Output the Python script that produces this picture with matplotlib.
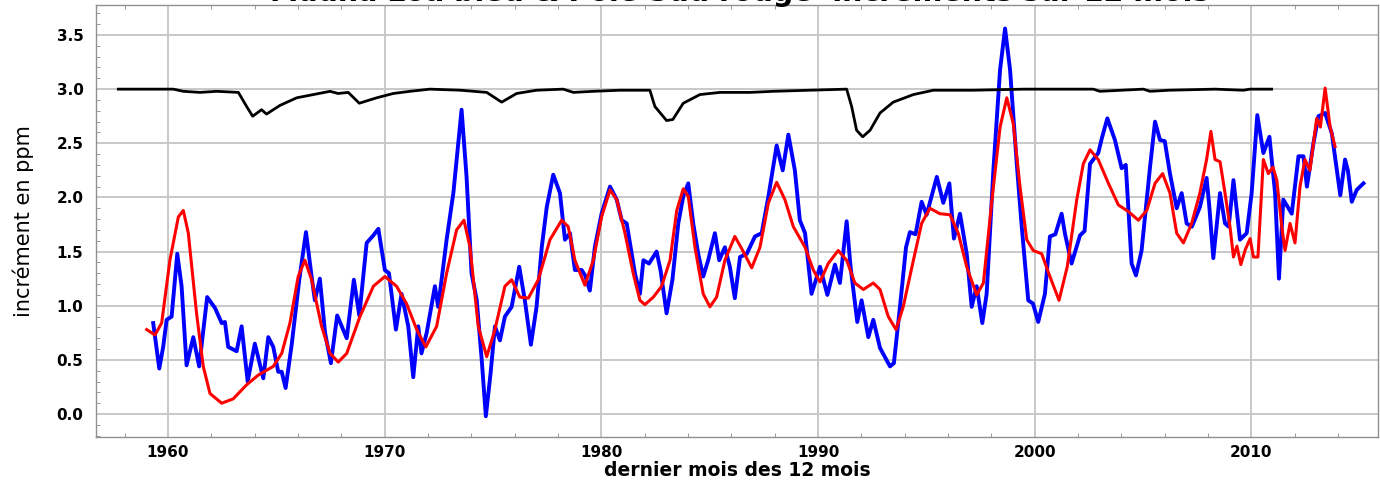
import matplotlib
matplotlib.use("Agg")
import matplotlib.pyplot as plt
from matplotlib.ticker import MultipleLocator

# Mauna Loa (blue) 12-month increment
ml_years = [1959.32, 1959.60, 1959.78, 1959.94, 1960.17, 1960.43, 1960.63, 1960.86, 1961.17, 1961.44,
            1961.81, 1962.17, 1962.48, 1962.63, 1962.78, 1963.17, 1963.40, 1963.68, 1964.01, 1964.40,
            1964.63, 1964.86, 1965.09, 1965.25, 1965.43, 1965.71, 1966.06, 1966.37, 1966.63, 1966.78,
            1967.01, 1967.25, 1967.52, 1967.81, 1968.25, 1968.58, 1968.83, 1969.17, 1969.48, 1969.71,
            1970.01, 1970.20, 1970.52, 1970.78, 1971.09, 1971.32, 1971.55, 1971.70, 1971.94, 1972.32,
            1972.47, 1972.86, 1973.17, 1973.55, 1973.78, 1974.01, 1974.25, 1974.48, 1974.67, 1974.89,
            1975.09, 1975.32, 1975.55, 1975.86, 1976.21, 1976.47, 1976.75, 1977.01, 1977.25, 1977.48,
            1977.78, 1978.09, 1978.32, 1978.55, 1978.78, 1979.09, 1979.25, 1979.47, 1979.70, 1980.01,
            1980.40, 1980.71, 1980.94, 1981.17, 1981.55, 1981.78, 1981.94, 1982.20, 1982.55, 1982.73,
            1983.01, 1983.28, 1983.55, 1983.78, 1984.01, 1984.24, 1984.47, 1984.70, 1984.93, 1985.24,
            1985.44, 1985.70, 1985.93, 1986.16, 1986.40, 1986.71, 1987.09, 1987.40, 1987.71, 1988.09,
            1988.37, 1988.63, 1988.93, 1989.16, 1989.40, 1989.70, 1990.09, 1990.43, 1990.78, 1991.01,
            1991.32, 1991.50, 1991.81, 1992.01, 1992.32, 1992.55, 1992.86, 1993.32, 1993.50, 1993.78,
            1994.06, 1994.24, 1994.50, 1994.78, 1995.01, 1995.48, 1995.78, 1996.06, 1996.27, 1996.55,
            1996.86, 1997.09, 1997.32, 1997.58, 1997.78, 1998.09, 1998.40, 1998.63, 1998.86, 1999.17,
            1999.40, 1999.70, 1999.92, 2000.16, 2000.47, 2000.70, 2000.95, 2001.24, 2001.40, 2001.70,
            2002.09, 2002.30, 2002.55, 2002.93, 2003.10, 2003.35, 2003.70, 2004.01, 2004.20, 2004.47,
            2004.67, 2004.93, 2005.32, 2005.55, 2005.78, 2006.00, 2006.24, 2006.55, 2006.78, 2007.01,
            2007.25, 2007.62, 2007.93, 2008.05, 2008.24, 2008.55, 2008.78, 2008.95, 2009.17, 2009.47,
            2009.78, 2010.01, 2010.27, 2010.55, 2010.83, 2011.09, 2011.27, 2011.47, 2011.86, 2012.17,
            2012.40, 2012.56, 2012.86, 2013.09, 2013.40, 2013.71, 2013.94, 2014.10, 2014.32, 2014.45,
            2014.63, 2014.86, 2015.17]
ml_values = [0.84, 0.42, 0.62, 0.87, 0.90, 1.48, 1.18, 0.45, 0.71, 0.44,
             1.08, 0.98, 0.84, 0.85, 0.62, 0.58, 0.81, 0.30, 0.65, 0.33,
             0.71, 0.62, 0.39, 0.39, 0.24, 0.64, 1.24, 1.68, 1.27, 1.05,
             1.25, 0.75, 0.47, 0.91, 0.70, 1.24, 0.91, 1.58, 1.65, 1.71,
             1.33, 1.30, 0.78, 1.11, 0.81, 0.34, 0.81, 0.56, 0.75, 1.18,
             0.99, 1.61, 2.04, 2.81, 2.19, 1.30, 1.05, 0.50, -0.02, 0.38,
             0.81, 0.68, 0.90, 0.99, 1.36, 1.05, 0.64, 0.99, 1.54, 1.91,
             2.21, 2.04, 1.61, 1.67, 1.33, 1.33, 1.28, 1.14, 1.54, 1.85,
             2.10, 1.98, 1.79, 1.76, 1.30, 1.11, 1.42, 1.39, 1.50, 1.33,
             0.93, 1.24, 1.76, 2.01, 2.13, 1.76, 1.48, 1.27, 1.42, 1.67,
             1.42, 1.54, 1.36, 1.07, 1.45, 1.48, 1.64, 1.67, 2.01, 2.48,
             2.25, 2.58, 2.25, 1.79, 1.67, 1.11, 1.36, 1.10, 1.38, 1.21,
             1.78, 1.36, 0.85, 1.05, 0.71, 0.87, 0.61, 0.44, 0.47, 0.99,
             1.54, 1.68, 1.66, 1.96, 1.84, 2.19, 1.95, 2.13, 1.62, 1.85,
             1.48, 0.99, 1.18, 0.84, 1.11, 2.25, 3.18, 3.56, 3.18, 2.31,
             1.73, 1.05, 1.02, 0.85, 1.11, 1.64, 1.66, 1.85, 1.66, 1.39,
             1.65, 1.69, 2.31, 2.41, 2.55, 2.73, 2.53, 2.27, 2.30, 1.39,
             1.28, 1.51, 2.28, 2.70, 2.53, 2.52, 2.22, 1.90, 2.04, 1.76,
             1.73, 1.91, 2.18, 1.93, 1.44, 2.04, 1.76, 1.73, 2.16, 1.61,
             1.67, 2.04, 2.76, 2.41, 2.56, 2.04, 1.25, 1.98, 1.85, 2.38,
             2.38, 2.10, 2.50, 2.75, 2.78, 2.59, 2.25, 2.02, 2.35, 2.25,
             1.96, 2.07, 2.13]

# South Pole (red) 12-month increment
sp_years = [1959.02, 1959.40, 1959.71, 1960.09, 1960.48, 1960.71, 1960.94, 1961.32, 1961.63, 1961.94,
            1962.48, 1963.01, 1963.63, 1964.17, 1964.86, 1965.25, 1965.63, 1966.01, 1966.32, 1966.63,
            1967.09, 1967.48, 1967.86, 1968.25, 1968.86, 1969.48, 1970.01, 1970.55, 1971.01, 1971.48,
            1971.90, 1972.40, 1972.86, 1973.32, 1973.66, 1973.94, 1974.32, 1974.71, 1975.09, 1975.55,
            1975.86, 1976.24, 1976.63, 1977.09, 1977.63, 1978.17, 1978.47, 1978.78, 1979.24, 1979.63,
            1980.01, 1980.40, 1980.71, 1981.09, 1981.47, 1981.78, 1982.01, 1982.40, 1982.78, 1983.17,
            1983.48, 1983.78, 1984.01, 1984.32, 1984.70, 1985.01, 1985.32, 1985.70, 1986.16, 1986.47,
            1986.94, 1987.32, 1987.71, 1988.09, 1988.47, 1988.86, 1989.40, 1989.78, 1990.09, 1990.47,
            1990.93, 1991.32, 1991.70, 1992.09, 1992.55, 1992.86, 1993.24, 1993.60, 1993.93, 1994.40,
            1994.78, 1995.16, 1995.62, 1996.09, 1996.47, 1996.86, 1997.32, 1997.63, 1998.01, 1998.40,
            1998.71, 1999.01, 1999.32, 1999.63, 1999.93, 2000.32, 2000.70, 2001.12, 2001.50, 2001.94,
            2002.24, 2002.55, 2002.93, 2003.40, 2003.86, 2004.32, 2004.78, 2005.17, 2005.55, 2005.90,
            2006.24, 2006.55, 2006.86, 2007.24, 2007.62, 2007.93, 2008.13, 2008.32, 2008.55, 2008.78,
            2009.01, 2009.17, 2009.33, 2009.51, 2009.72, 2009.94, 2010.09, 2010.30, 2010.55, 2010.78,
            2010.99, 2011.17, 2011.40, 2011.55, 2011.78, 2012.01, 2012.24, 2012.47, 2012.70, 2013.01,
            2013.18, 2013.40, 2013.63, 2013.86]
sp_values = [0.78, 0.73, 0.84, 1.42, 1.82, 1.88, 1.67, 0.93, 0.44, 0.19,
             0.10, 0.14, 0.27, 0.36, 0.44, 0.56, 0.84, 1.27, 1.42, 1.24,
             0.81, 0.56, 0.48, 0.56, 0.90, 1.18, 1.27, 1.18, 1.02, 0.78,
             0.62, 0.81, 1.30, 1.70, 1.79, 1.54, 0.81, 0.53, 0.78, 1.18,
             1.24, 1.08, 1.07, 1.24, 1.61, 1.79, 1.73, 1.42, 1.19, 1.42,
             1.82, 2.07, 1.98, 1.67, 1.30, 1.05, 1.01, 1.08, 1.18, 1.42,
             1.88, 2.08, 2.01, 1.54, 1.11, 0.99, 1.08, 1.42, 1.64, 1.53,
             1.35, 1.54, 1.95, 2.14, 1.98, 1.73, 1.54, 1.33, 1.22, 1.39,
             1.51, 1.42, 1.21, 1.15, 1.21, 1.15, 0.90, 0.78, 0.99, 1.42,
             1.76, 1.90, 1.85, 1.84, 1.67, 1.36, 1.10, 1.21, 1.95, 2.65,
             2.92, 2.68, 2.10, 1.61, 1.51, 1.48, 1.27, 1.05, 1.36, 1.98,
             2.31, 2.44, 2.35, 2.13, 1.93, 1.87, 1.79, 1.88, 2.13, 2.22,
             2.04, 1.67, 1.58, 1.76, 2.04, 2.35, 2.61, 2.35, 2.33, 2.04,
             1.73, 1.45, 1.55, 1.38, 1.52, 1.62, 1.45, 1.45, 2.35, 2.22,
             2.28, 2.16, 1.73, 1.51, 1.76, 1.58, 2.10, 2.35, 2.25, 2.73,
             2.65, 3.01, 2.65, 2.47]

# black curve
bk_years = [1957.71, 1960.25, 1960.71, 1961.48, 1962.25, 1963.25, 1963.63, 1963.91, 1964.32, 1964.55,
            1965.17, 1965.94, 1966.71, 1967.48, 1967.85, 1968.32, 1968.83, 1969.63, 1970.40, 1971.17,
            1972.09, 1973.50, 1974.71, 1975.40, 1976.09, 1977.01, 1978.24, 1978.71, 1979.63, 1980.86,
            1982.24, 1982.47, 1983.01, 1983.30, 1983.78, 1984.55, 1985.47, 1986.86, 1987.94, 1989.60,
            1991.32, 1991.55, 1991.78, 1992.06, 1992.40, 1992.86, 1993.47, 1994.40, 1995.32, 1997.16,
            1999.50, 2001.62, 2002.70, 2003.01, 2005.01, 2005.32, 2006.20, 2008.32, 2009.62, 2009.94,
            2010.93]
bk_values = [3.00, 3.00, 2.98, 2.97, 2.98, 2.97, 2.84, 2.75, 2.81, 2.77,
             2.85, 2.92, 2.95, 2.98, 2.96, 2.97, 2.87, 2.92, 2.96, 2.98,
             3.00, 2.99, 2.97, 2.88, 2.96, 2.99, 3.00, 2.97, 2.98, 2.99,
             2.99, 2.84, 2.71, 2.72, 2.87, 2.95, 2.97, 2.97, 2.98, 2.99,
             3.00, 2.84, 2.62, 2.56, 2.62, 2.78, 2.88, 2.95, 2.99, 2.99,
             3.00, 3.00, 3.00, 2.98, 3.00, 2.98, 2.99, 3.00, 2.99, 3.00,
             3.00]

x_ticks = [1960, 1970, 1980, 1990, 2000, 2010]
y_ticks = [0.0, 0.5, 1.0, 1.5, 2.0, 2.5, 3.0, 3.5]

fig = plt.figure(figsize=(13.8, 4.82), dpi=100)
ax = fig.add_axes([96 / 1380, 1 - 437 / 482, (1378 - 96) / 1380, (437 - 5) / 482])

ax.plot(ml_years, ml_values, color="#0000ff", lw=2.8, zorder=3)
ax.plot(sp_years, sp_values, color="#ff0000", lw=2.2, zorder=4)
ax.plot(bk_years, bk_values, color="black", lw=2.0, zorder=5)

ax.set_xlim(1956.68, 2015.84)
ax.set_ylim(-0.212, 3.777)
ax.set_xticks(x_ticks)
ax.set_yticks(y_ticks)
ax.set_yticklabels([f"{v:.1f}" for v in y_ticks])
ax.xaxis.set_minor_locator(MultipleLocator(2))
ax.yaxis.set_minor_locator(MultipleLocator(0.1))
ax.grid(True, which="major", color="#c8c8c8", lw=1.4, zorder=0)
ax.tick_params(which="major", length=0, labelsize=11)
ax.tick_params(axis="y", which="major", pad=9)
ax.tick_params(axis="x", which="major", pad=6)
ax.tick_params(which="minor", direction="in", length=3, color="#888888",
               top=True, left=True, bottom=True)
for lab in ax.get_xticklabels() + ax.get_yticklabels():
    lab.set_fontweight("bold")
for s in ax.spines.values():
    s.set_color("#909090")
    s.set_linewidth(1.0)

ax.set_xlabel("dernier mois des 12 mois", fontsize=13.5, fontweight="bold")
ax.set_ylabel("incrément en ppm", fontsize=15, family="DejaVu Sans")
ax.yaxis.set_label_coords(-62 / 1282, 0.5)
ax.xaxis.set_label_coords(0.5, -24 / 432)

# title sits mostly above the top edge, as in the original
fig.text(740 / 1380, 1 - 1 / 482, "Mauna Loa bleu & Pole Sud rouge  incréments sur 12 mois",
         ha="center", va="baseline", fontsize=20.5, fontweight="bold")

fig.savefig("out.png", dpi=100)
